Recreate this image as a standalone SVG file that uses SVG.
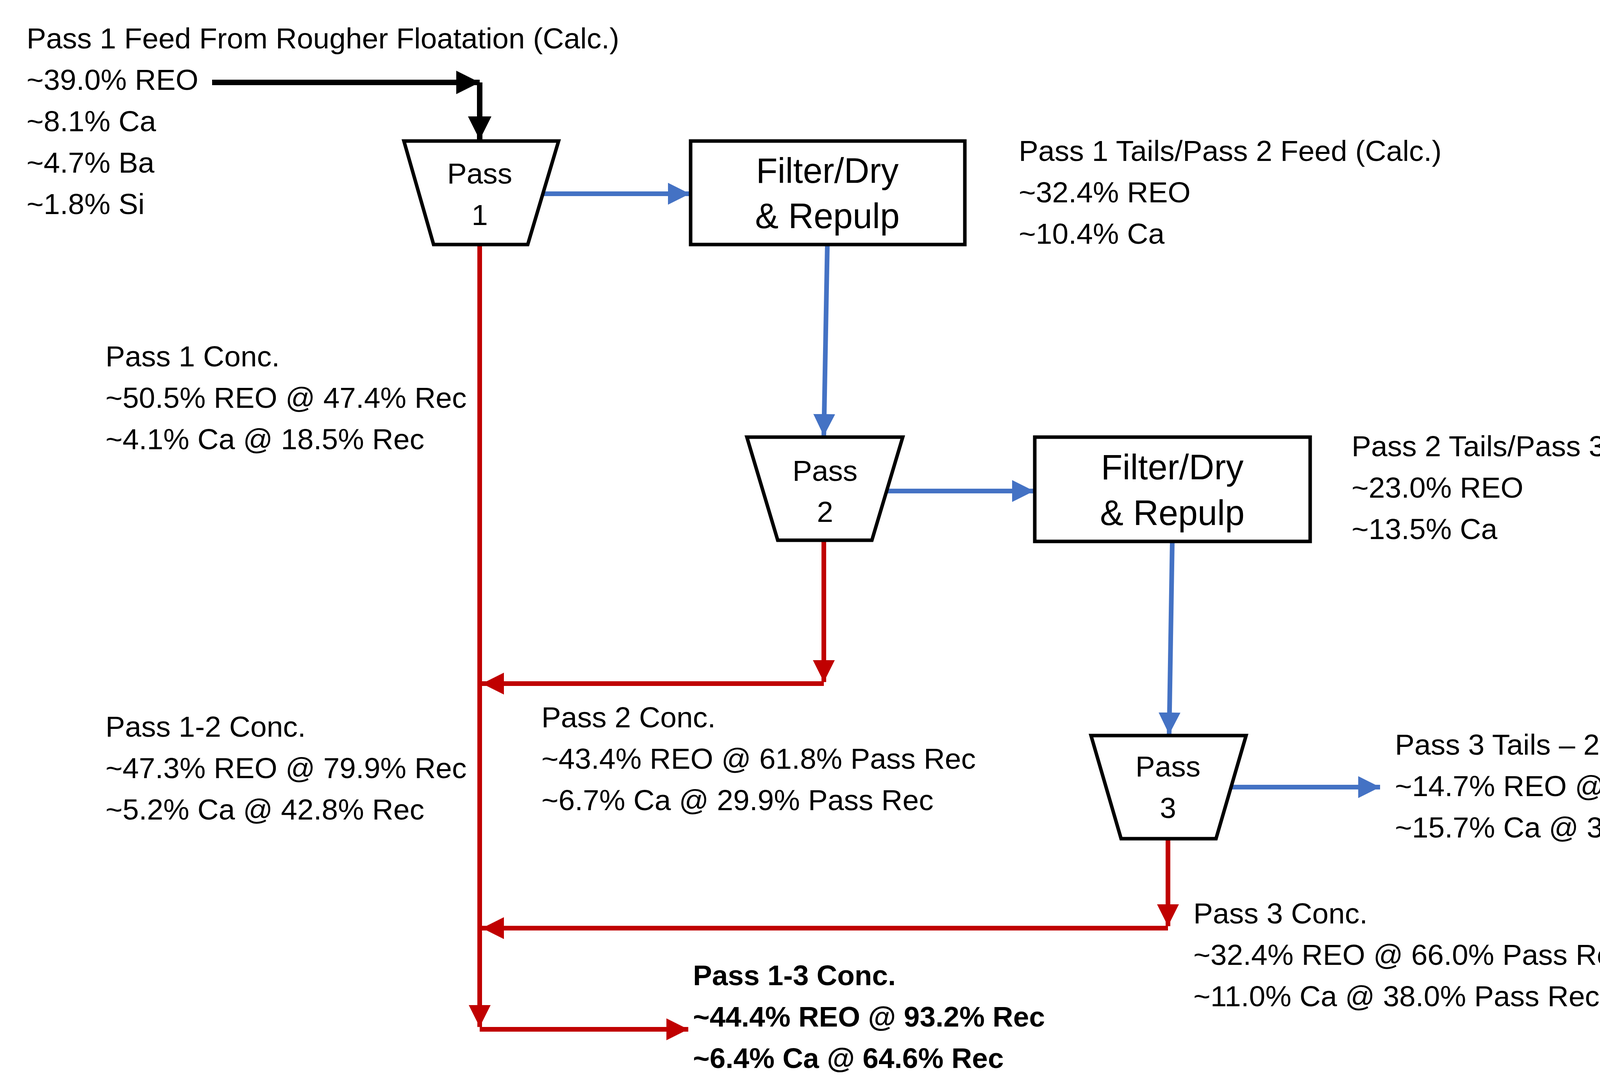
<svg xmlns="http://www.w3.org/2000/svg" width="4581" height="2775" viewBox="0 0 4581 2775">
<style>
text{font-family:"Liberation Sans",Arial,sans-serif;font-size:75px;fill:#000}
.c{text-anchor:middle}
.big{font-size:90px}
.b{font-weight:bold;font-size:73px}
.shape{fill:#fff;stroke:#000;stroke-width:9}
.k{stroke:#000;stroke-width:14;fill:none}
.bl{stroke:#4472C4;stroke-width:12;fill:none}
.r{stroke:#C00000;stroke-width:12;fill:none}
</style>
<defs>
<marker id="ak" markerUnits="userSpaceOnUse" markerWidth="60" markerHeight="60" viewBox="0 0 10 10" refX="10" refY="5" orient="auto"><path d="M0,0L10,5L0,10z" fill="#000"/></marker>
<marker id="ab" markerUnits="userSpaceOnUse" markerWidth="56" markerHeight="56" viewBox="0 0 10 10" refX="10" refY="5" orient="auto"><path d="M0,0L10,5L0,10z" fill="#4472C4"/></marker>
<marker id="ar" markerUnits="userSpaceOnUse" markerWidth="56" markerHeight="56" viewBox="0 0 10 10" refX="10" refY="5" orient="auto"><path d="M0,0L10,5L0,10z" fill="#C00000"/></marker>
</defs>
<rect width="4581" height="2775" fill="#fff"/>
<g id="connectors">
<path class="k" d="M543,211H1228" marker-end="url(#ak)"/>
<path class="k" d="M1228,211V358" marker-end="url(#ak)"/>
<path class="bl" d="M1389,496H1766" marker-end="url(#ab)"/>
<path class="bl" d="M2118,626L2109,1116" marker-end="url(#ab)"/>
<path class="bl" d="M2270,1257H2647" marker-end="url(#ab)"/>
<path class="bl" d="M3001,1386L2993,1880" marker-end="url(#ab)"/>
<path class="bl" d="M3151,2015H3533" marker-end="url(#ab)"/>
<path class="r" d="M1228,626V2629" marker-end="url(#ar)"/>
<path class="r" d="M2109,1383V1746" marker-end="url(#ar)"/>
<path class="r" d="M2109,1750H1234" marker-end="url(#ar)"/>
<path class="r" d="M2990,2147V2371" marker-end="url(#ar)"/>
<path class="r" d="M2990,2376H1234" marker-end="url(#ar)"/>
<path class="r" d="M1228,2635H1762" marker-end="url(#ar)"/>
</g>
<g id="feed">
<text x="68" y="124">Pass 1 Feed From Rougher Floatation (Calc.)</text>
<text x="68" y="230">~39.0% REO</text>
<text x="68" y="336">~8.1% Ca</text>
<text x="68" y="442">~4.7% Ba</text>
<text x="68" y="548">~1.8% Si</text>
</g>
<g id="pass1">
<path class="shape" d="M1034,361H1430L1351,626H1110Z"/>
<text class="c" x="1228" y="470">Pass</text>
<text class="c" x="1228" y="576">1</text>
</g>
<g id="filter1">
<rect class="shape" x="1768" y="361" width="702" height="265"/>
<text class="c big" x="2118" y="468">Filter/Dry</text>
<text class="c big" x="2118" y="584">&amp; Repulp</text>
</g>
<g id="tails1">
<text x="2608" y="412">Pass 1 Tails/Pass 2 Feed (Calc.)</text>
<text x="2608" y="518">~32.4% REO</text>
<text x="2608" y="624">~10.4% Ca</text>
</g>
<g id="pass2">
<path class="shape" d="M1912,1119H2311L2232,1383H1991Z"/>
<text class="c" x="2112" y="1231">Pass</text>
<text class="c" x="2112" y="1336">2</text>
</g>
<g id="filter2">
<rect class="shape" x="2649" y="1119" width="705" height="267"/>
<text class="c big" x="3001" y="1227">Filter/Dry</text>
<text class="c big" x="3001" y="1344">&amp; Repulp</text>
</g>
<g id="tails2">
<text x="3460" y="1168">Pass 2 Tails/Pass 3 Feed (Calc.)</text>
<text x="3460" y="1274">~23.0% REO</text>
<text x="3460" y="1380">~13.5% Ca</text>
</g>
<g id="pass3">
<path class="shape" d="M2793,1883H3190L3113,2147H2870Z"/>
<text class="c" x="2990" y="1988">Pass</text>
<text class="c" x="2990" y="2094">3</text>
</g>
<g id="tails3">
<text x="3571" y="1932">Pass 3 Tails – 265 grams</text>
<text x="3571" y="2038">~14.7% REO @ 6.9% Rec</text>
<text x="3571" y="2144">~15.7% Ca @ 35.4% Rec</text>
</g>
<g id="conc1">
<text x="270" y="938">Pass 1 Conc.</text>
<text x="270" y="1044">~50.5% REO @ 47.4% Rec</text>
<text x="270" y="1150">~4.1% Ca @ 18.5% Rec</text>
</g>
<g id="conc12">
<text x="270" y="1886">Pass 1-2 Conc.</text>
<text x="270" y="1992">~47.3% REO @ 79.9% Rec</text>
<text x="270" y="2098">~5.2% Ca @ 42.8% Rec</text>
</g>
<g id="conc2">
<text x="1386" y="1862">Pass 2 Conc.</text>
<text x="1386" y="1968">~43.4% REO @ 61.8% Pass Rec</text>
<text x="1386" y="2074">~6.7% Ca @ 29.9% Pass Rec</text>
</g>
<g id="conc3">
<text x="3055" y="2364">Pass 3 Conc.</text>
<text x="3055" y="2470">~32.4% REO @ 66.0% Pass Rec</text>
<text x="3055" y="2576">~11.0% Ca @ 38.0% Pass Rec</text>
</g>
<g id="conc13">
<text class="b" x="1774" y="2522">Pass 1-3 Conc.</text>
<text class="b" x="1774" y="2628">~44.4% REO @ 93.2% Rec</text>
<text class="b" x="1774" y="2734">~6.4% Ca @ 64.6% Rec</text>
</g>
</svg>
